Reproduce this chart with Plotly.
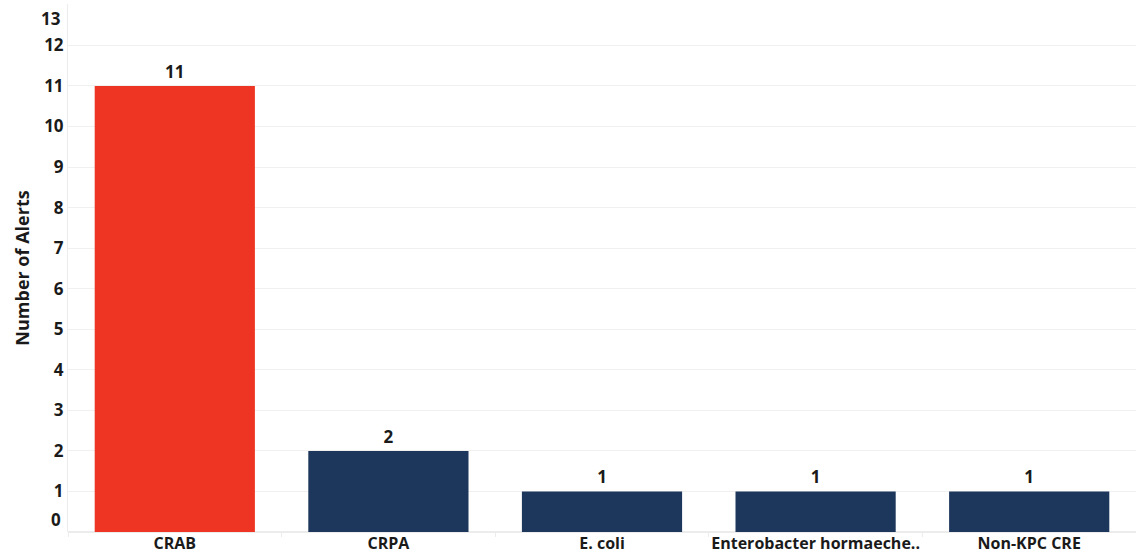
import plotly.graph_objects as go

# Alert counts by organism
organisms = ["CRAB", "CRPA", "E. coli", "Enterobacter hormaeche..", "Non-KPC CRE"]
alerts = [11, 2, 1, 1, 1]
bar_colors = ["#EE3524", "#1D375C", "#1D375C", "#1D375C", "#1D375C"]
y_ticks = list(range(0, 14))

FONT = "Open Sans"
INK = "#1a1a1a"

fig = go.Figure(
    go.Bar(
        x=organisms,
        y=alerts,
        marker=dict(color=bar_colors, line=dict(width=0)),
        text=[str(v) for v in alerts],
        textposition="outside",
        textfont=dict(family=FONT, size=17, color=INK, weight="bold"),
        cliponaxis=False,
        width=0.75,
        hoverinfo="x+y",
    )
)

# Edge ticks (0 and 13) get their labels nudged inward, the rest sit on the gridlines
inner_text = ["" if v in (0, 13) else str(v) for v in y_ticks]

fig.update_layout(
    width=1136,
    height=556,
    margin=dict(l=68, r=0, t=4, b=24, autoexpand=False),
    paper_bgcolor="white",
    plot_bgcolor="white",
    showlegend=False,
    font=dict(family=FONT, color=INK),
    xaxis=dict(
        type="category",
        range=[-0.5, 4.5],
        showgrid=False,
        showline=False,
        ticks="outside",
        tickson="boundaries",
        ticklen=4,
        tickcolor="#ececec",
        tickangle=0,
        automargin=False,
        tickfont=dict(family=FONT, size=16, color=INK, weight="bold"),
        zeroline=False,
    ),
    yaxis=dict(
        range=[0, 13.02],
        tickvals=y_ticks,
        ticktext=inner_text,
        showgrid=True,
        gridcolor="#f0f0f0",
        gridwidth=1,
        showline=True,
        linecolor="#ececec",
        linewidth=1,
        zeroline=True,
        zerolinecolor="#ececec",
        ticks="",
        automargin=False,
        tickfont=dict(family=FONT, size=17, color=INK, weight="bold"),
        title=dict(
            text="Number of Alerts",
            font=dict(family=FONT, size=18, color=INK, weight="bold"),
            standoff=9,
        ),
    ),
)

for val, shift in ((13, -14), (0, 13)):
    fig.add_annotation(
        x=0,
        xref="paper",
        y=val,
        yref="y",
        text=str(val),
        showarrow=False,
        xanchor="right",
        yanchor="middle",
        xshift=-5,
        yshift=shift,
        font=dict(family=FONT, size=17, color=INK, weight="bold"),
    )

fig.write_html("out.html")
